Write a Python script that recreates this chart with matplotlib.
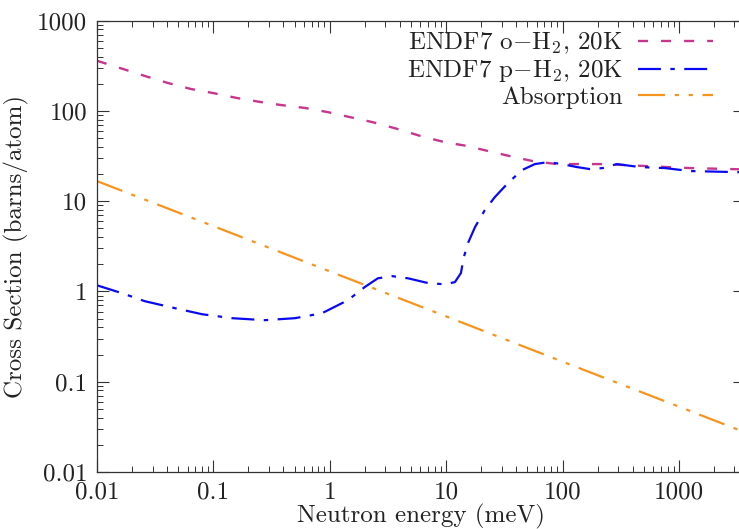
import matplotlib
matplotlib.use("Agg")
import matplotlib.pyplot as plt
from matplotlib.ticker import FixedLocator, FixedFormatter, LogLocator, NullFormatter

plt.rcParams['font.family'] = ['cmr10', 'DejaVu Serif']
plt.rcParams['mathtext.fontset'] = 'cm'
plt.rcParams['axes.formatter.use_mathtext'] = True
plt.rcParams['lines.scale_dashes'] = False

# ---- data ----
e_ortho = [0.01, 0.0167, 0.0258, 0.0407, 0.0643, 0.0993, 0.16, 0.251, 0.388, 0.612,
           0.966, 1.52, 2.35, 3.85, 5.96, 9.77, 15.1, 22.9, 35.3, 55.7, 89.5,
           141, 222, 357, 563, 1242, 3700]
s_ortho = [360, 292, 244, 204, 175, 158, 139, 126, 116, 108,
           97, 85, 75, 63, 53, 45, 41, 36, 31.6, 27.8, 25.8,
           25.8, 25.8, 25.1, 24.4, 23.3, 22.5]

e_para = [0.01, 0.0164, 0.0258, 0.0468, 0.0798, 0.1445, 0.277, 0.502, 0.857, 1.43,
          2.0, 2.59, 3.42, 4.70, 6.98, 9.77, 11.9, 13.4, 14.2, 15.4, 17.7,
          21.5, 26.2, 34.0, 44.8, 57.9, 75, 98.9, 133, 172, 222, 293, 462,
          758, 1242, 3700]
s_para = [1.17, 0.957, 0.78, 0.653, 0.56, 0.506, 0.481, 0.506, 0.574, 0.80,
          1.12, 1.40, 1.48, 1.40, 1.24, 1.20, 1.27, 1.60, 2.40, 3.43, 5.16,
          7.97, 11.1, 15.9, 22.1, 25.8, 27.1, 25.8, 23.9, 22.7, 23.3, 25.8, 23.9,
          23.3, 21.6, 20.9]

e_abs = [0.01, 0.1, 1, 10, 100, 1000, 3700]
s_abs = [16.7, 5.3, 1.67, 0.53, 0.167, 0.053, 0.0275]

x_ticks = [0.01, 0.1, 1, 10, 100, 1000]
x_ticklabels = ['0.01', '0.1', '1', '10', '100', '1000']
y_ticks = [0.01, 0.1, 1, 10, 100, 1000]
y_ticklabels = ['0.01', '0.1', '1', '10', '100', '1000']

labels = [r'ENDF7 o$-$H$_2$, 20K', r'ENDF7 p$-$H$_2$, 20K', 'Absorption']
colors = ['#c8358c', '#0a0af2', '#f7941d']

# ---- figure ----
fig = plt.figure(figsize=(7.39, 5.29), dpi=100)
ax = fig.add_axes([97/739, 1 - 472/529, (745-97)/739, (472-20.7)/529])

ax.plot(e_ortho, s_ortho, color=colors[0], lw=1.7, dashes=(7.2, 9.4), label=labels[0])
ax.plot(e_para, s_para, color=colors[1], lw=1.6, dashes=(16.5, 6.8, 3.2, 6.8), label=labels[1])
ax.plot(e_abs, s_abs, color=colors[2], lw=1.6, dashes=(19.5, 7, 3, 7, 3, 7), label=labels[2])

ax.set_xscale('log')
ax.set_yscale('log')
ax.set_xlim(0.01, 3700)
ax.set_ylim(0.01, 1000)

ax.xaxis.set_major_locator(FixedLocator(x_ticks))
ax.xaxis.set_major_formatter(FixedFormatter(x_ticklabels))
ax.yaxis.set_major_locator(FixedLocator(y_ticks))
ax.yaxis.set_major_formatter(FixedFormatter(y_ticklabels))
ax.xaxis.set_minor_locator(LogLocator(base=10, subs=range(2, 10), numticks=20))
ax.yaxis.set_minor_locator(LogLocator(base=10, subs=range(2, 10), numticks=20))
ax.xaxis.set_minor_formatter(NullFormatter())
ax.yaxis.set_minor_formatter(NullFormatter())

txtc = '#222222'
ax.tick_params(which='both', direction='in', top=True, right=True, colors='#333333',
               labelcolor=txtc, labelsize=18)
ax.tick_params(which='major', length=8.6, width=0.8, pad=7)
ax.tick_params(which='minor', length=4.3, width=0.7)
for sp in ax.spines.values():
    sp.set_linewidth(0.9)
    sp.set_color('#333333')

ax.set_xlabel('Neutron energy (meV)', fontsize=18, color=txtc, labelpad=0)
ax.set_ylabel('Cross Section (barns/atom)', fontsize=18, color=txtc, labelpad=6)

leg = ax.legend(loc='upper right', bbox_to_anchor=(713/739, 1 - 31/529),
                bbox_transform=fig.transFigure, frameon=False, markerfirst=False,
                fontsize=18, handlelength=3.0, handletextpad=0.6, labelspacing=0.08,
                borderpad=0, borderaxespad=0)
for t in leg.get_texts():
    t.set_color(txtc)

fig.savefig('out.png', dpi=100)
